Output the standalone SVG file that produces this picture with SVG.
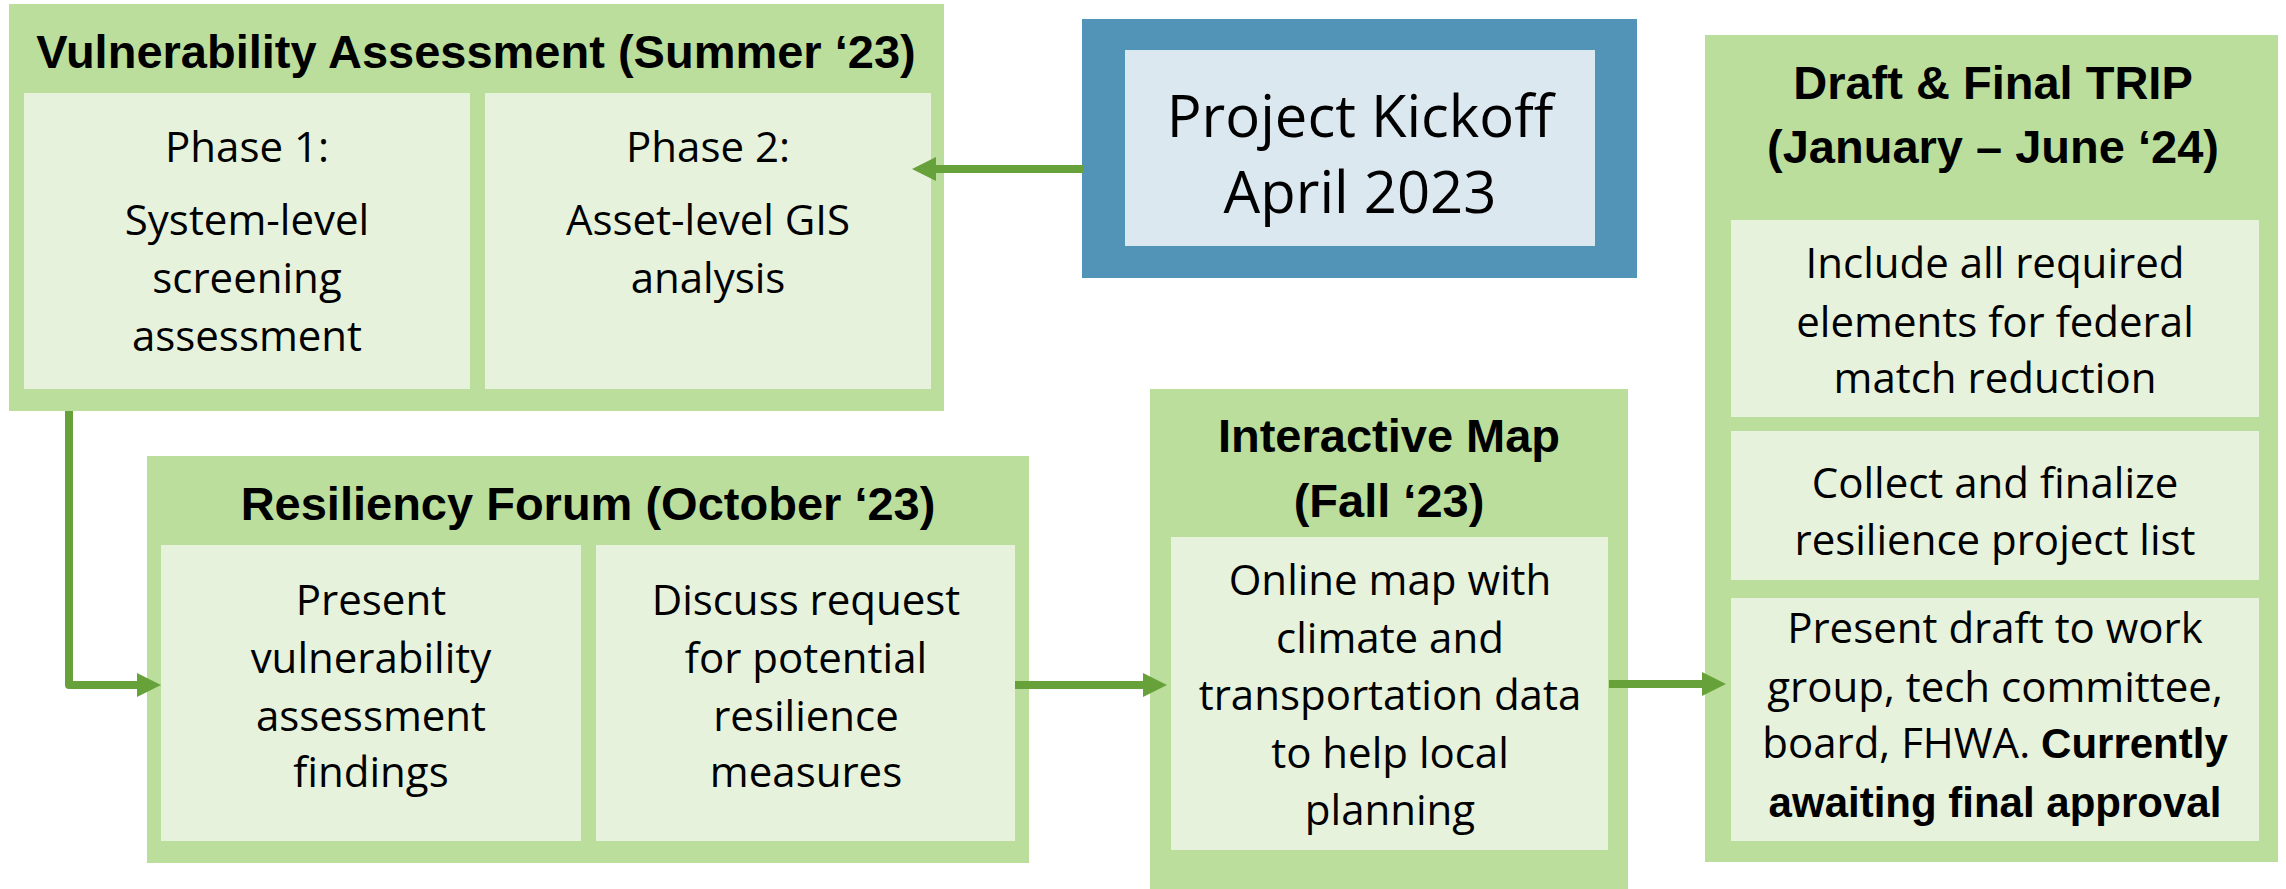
<svg xmlns="http://www.w3.org/2000/svg" width="2286" height="889" viewBox="0 0 2286 889">
<defs>
<style>
.outer{fill:#BBDE9D}
.inner{fill:#E6F2DC}
.pko{fill:#5294B8}
.pki{fill:#DCE8F0}
.t{font-family:"Liberation Sans",Arial,sans-serif;font-weight:bold;font-size:47px;fill:#000;text-anchor:middle}
.b{font-family:"Open Sans","DejaVu Sans",sans-serif;font-size:42px;fill:#000;text-anchor:middle}
.bb{font-family:"Liberation Sans",Arial,sans-serif;font-weight:bold;font-size:42px}
.pk{font-family:"Open Sans","DejaVu Sans",sans-serif;font-size:58px;fill:#000;text-anchor:middle}
.conn{fill:none;stroke:#67A13A;stroke-width:8;stroke-linejoin:round}
</style>
<marker id="ah" markerUnits="userSpaceOnUse" viewBox="0 0 24 24" markerWidth="24" markerHeight="24" refX="0" refY="12" orient="auto">
<path d="M0,0 L24,12 L0,24 Z" fill="#67A13A"/>
</marker>
</defs>
<rect width="2286" height="889" fill="#fff"/>

<g id="vulnerability-assessment">
<rect class="outer" x="9" y="4" width="935" height="407"/>
<rect class="inner" x="24" y="93" width="446" height="296"/>
<rect class="inner" x="485" y="93" width="446" height="296"/>
<text class="t" x="476" y="68">Vulnerability Assessment (Summer ‘23)</text>
<text class="b" x="247" y="162">Phase 1:</text>
<text class="b" x="247" y="235">System-level</text>
<text class="b" x="247" y="293">screening</text>
<text class="b" x="247" y="351">assessment</text>
<text class="b" x="708" y="162">Phase 2:</text>
<text class="b" x="708" y="235">Asset-level GIS</text>
<text class="b" x="708" y="293">analysis</text>
</g>

<g id="project-kickoff">
<rect class="pko" x="1082" y="19" width="555" height="259"/>
<rect class="pki" x="1125" y="50" width="470" height="196"/>
<text class="pk" x="1360" y="137">Project Kickoff</text>
<text class="pk" x="1360" y="213">April 2023</text>
</g>

<g id="draft-final-trip">
<rect class="outer" x="1705" y="35" width="573" height="827"/>
<rect class="inner" x="1731" y="220" width="528" height="197"/>
<rect class="inner" x="1731" y="431" width="528" height="149"/>
<rect class="inner" x="1731" y="598" width="528" height="243"/>
<text class="t" x="1993" y="99">Draft &amp; Final TRIP</text>
<text class="t" x="1993" y="163">(January – June ‘24)</text>
<text class="b" x="1995" y="278">Include all required</text>
<text class="b" x="1995" y="337">elements for federal</text>
<text class="b" x="1995" y="393">match reduction</text>
<text class="b" x="1995" y="498">Collect and finalize</text>
<text class="b" x="1995" y="555">resilience project list</text>
<text class="b" x="1995" y="643">Present draft to work</text>
<text class="b" x="1995" y="702">group, tech committee,</text>
<text class="b" x="1995" y="758">board, FHWA. <tspan class="bb">Currently</tspan></text>
<text class="b bb" x="1995" y="817">awaiting final approval</text>
</g>

<g id="resiliency-forum">
<rect class="outer" x="147" y="456" width="882" height="407"/>
<rect class="inner" x="161" y="545" width="420" height="296"/>
<rect class="inner" x="596" y="545" width="419" height="296"/>
<text class="t" x="588" y="520">Resiliency Forum (October ‘23)</text>
<text class="b" x="371" y="615">Present</text>
<text class="b" x="371" y="673">vulnerability</text>
<text class="b" x="371" y="731">assessment</text>
<text class="b" x="371" y="787">findings</text>
<text class="b" x="806" y="615">Discuss request</text>
<text class="b" x="806" y="673">for potential</text>
<text class="b" x="806" y="731">resilience</text>
<text class="b" x="806" y="787">measures</text>
</g>

<g id="interactive-map">
<rect class="outer" x="1150" y="389" width="478" height="500"/>
<rect class="inner" x="1171" y="537" width="437" height="313"/>
<text class="t" x="1389" y="452">Interactive Map</text>
<text class="t" x="1389" y="517">(Fall ‘23)</text>
<text class="b" x="1390" y="595">Online map with</text>
<text class="b" x="1390" y="653">climate and</text>
<text class="b" x="1390" y="710">transportation data</text>
<text class="b" x="1390" y="768">to help local</text>
<text class="b" x="1390" y="825">planning</text>
</g>

<g id="connectors">
<path class="conn" d="M1083,169 H936" marker-end="url(#ah)"/>
<path class="conn" d="M69,411 V685 H137" marker-end="url(#ah)"/>
<path class="conn" d="M1015,685 H1143" marker-end="url(#ah)"/>
<path class="conn" d="M1609,684 H1702" marker-end="url(#ah)"/>
</g>
</svg>
